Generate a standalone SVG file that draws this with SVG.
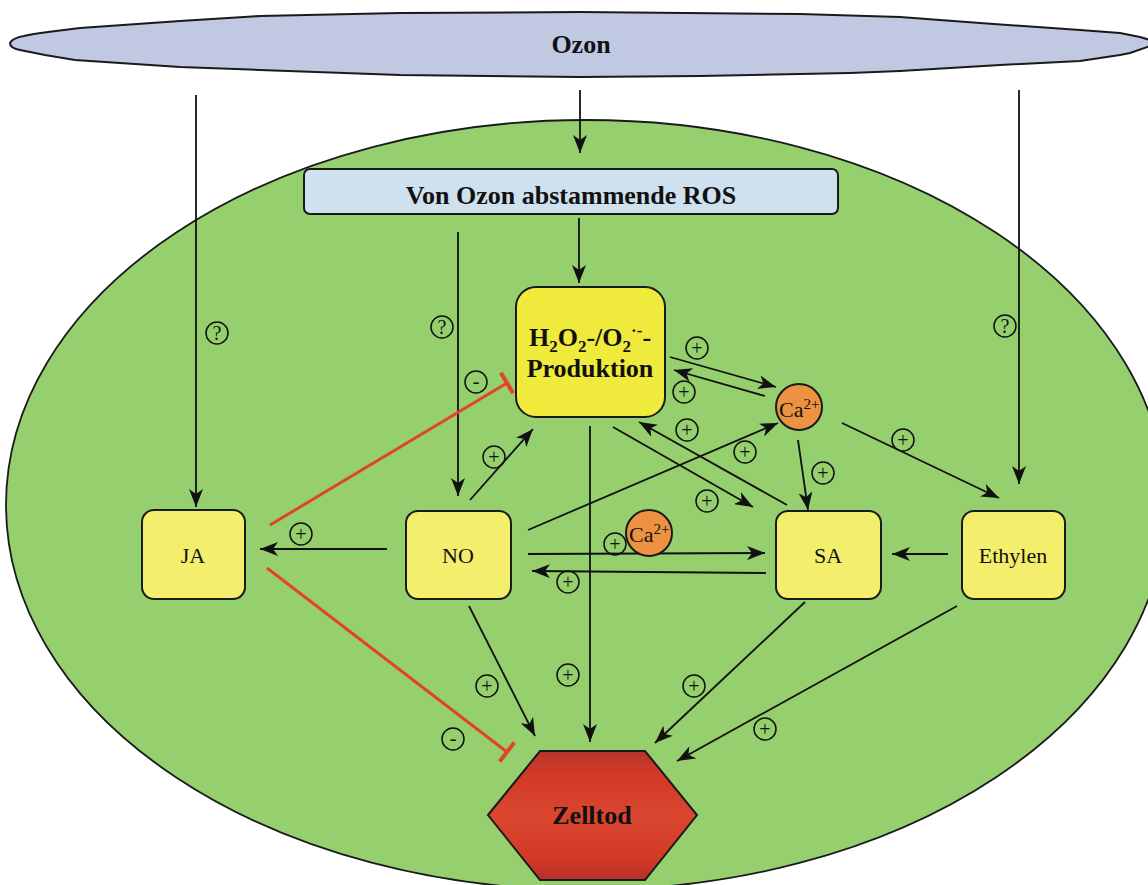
<svg xmlns="http://www.w3.org/2000/svg" width="1148" height="885" viewBox="0 0 1148 885">
  <style>
    .t { font-family: "Liberation Serif", "Times New Roman", serif; fill: #111; }
    .title { font-weight: bold; font-size: 26px; text-anchor: middle; }
    .lbl { font-size: 22px; text-anchor: middle; }
    .box { fill: #f3ee6c; stroke: #1a1a1a; stroke-width: 2; }
    .ca { fill: #ec9240; stroke: #1a1a1a; stroke-width: 2; }
    .con { fill: none; stroke: #111; stroke-width: 1.8; marker-end: url(#arr); }
    .inh { fill: none; stroke: #e0452c; stroke-width: 3; marker-end: url(#bar); }
    .sg circle { fill: none; stroke: #111; stroke-width: 1.5; }
    .sg text { font-family: "Liberation Serif", "Times New Roman", serif; font-size: 20px; text-anchor: middle; fill: #111; }
  </style>
  <defs>
    <marker id="arr" markerWidth="18" markerHeight="14" refX="18" refY="7" orient="auto" markerUnits="userSpaceOnUse">
      <path d="M0,0 L18,7 L0,14 L5,7 Z" fill="#111"/>
    </marker>
    <marker id="bar" markerWidth="8" markerHeight="26" refX="4" refY="13" orient="auto" markerUnits="userSpaceOnUse">
      <path d="M4,1 V25" stroke="#e0452c" stroke-width="4"/>
    </marker>
    <linearGradient id="deathFill" x1="0" y1="0" x2="0" y2="1">
      <stop offset="0" stop-color="#b9342a"/>
      <stop offset="0.18" stop-color="#d13a26"/>
      <stop offset="0.5" stop-color="#da462f"/>
      <stop offset="0.82" stop-color="#d23b27"/>
      <stop offset="1" stop-color="#b5302a"/>
    </linearGradient>
  </defs>

  <!-- ozone layer -->
  <g id="ozon">
    <path d="M10,43 C12,39 18,37 24,36 C32,34 40,33 48,32 L80,28 L180,21 L260,16 L400,13 L580,12 L800,14 L900,17 L980,23 L1080,30 L1120,33 L1140,37 L1150,40 L1150,46 L1130,53 L1120,55 L1080,61 L1000,65 L900,71 L850,73 L700,76 L580,77 L400,75 L260,70 L180,67 L75,60 L45,55 L35,53 L20,50 C14,49 10,47 10,43 Z" fill="#c0c8e2" stroke="#1a1a1a" stroke-width="2"/>
    <text class="t title" x="581" y="53">Ozon</text>
  </g>

  <!-- cell -->
  <g id="zelle">
    <ellipse cx="586" cy="505" rx="580" ry="385" fill="#96cf6e" stroke="#1a1a1a" stroke-width="1.8"/>
  </g>

  <!-- connectors -->
  <g id="connectors">
    <path class="con" d="M196,95 V507"/>
    <path class="con" d="M580,90 V153"/>
    <path class="con" d="M1019,90 V484"/>
    <path class="con" d="M579,218 V283"/>
    <path class="con" d="M458,232 V496"/>
    <path class="con" d="M470,500 L533,429"/>
    <path class="con" d="M387,549 L260,549"/>
    <path class="con" d="M528,530 L778,423"/>
    <path class="con" d="M528,554 L765,553"/>
    <path class="con" d="M766,573 L532,571"/>
    <path class="con" d="M469,606 L535,736"/>
    <path class="con" d="M590,426 V742"/>
    <path class="con" d="M670,357 L776,387"/>
    <path class="con" d="M765,396 L674,370"/>
    <path class="con" d="M613,427 L753,507"/>
    <path class="con" d="M787,505 L639,422"/>
    <path class="con" d="M798,440 L808,510"/>
    <path class="con" d="M842,423 L999,498"/>
    <path class="con" d="M948,554 L892,554"/>
    <path class="con" d="M805,602 L655,743"/>
    <path class="con" d="M957,606 L677,761"/>
    <path class="inh" d="M270,525 L507,383"/>
    <path class="inh" d="M267,568 L507,752"/>
  </g>

  <!-- signs on connectors -->
  <g id="signs" class="sg">
    <circle cx="217" cy="333" r="11"/><text x="217" y="340" font-size="17">?</text>
    <circle cx="442" cy="327" r="11"/><text x="442" y="334" font-size="17">?</text>
    <circle cx="1005" cy="326" r="11"/><text x="1005" y="333" font-size="17">?</text>
    <circle cx="476" cy="382" r="11"/><text x="476" y="388">-</text>
    <circle cx="453" cy="739" r="11"/><text x="453" y="745">-</text>
    <circle cx="494" cy="457" r="11"/><text x="494" y="464">+</text>
    <circle cx="301" cy="534" r="11"/><text x="301" y="541">+</text>
    <circle cx="697" cy="348" r="11"/><text x="697" y="355">+</text>
    <circle cx="684" cy="392" r="11"/><text x="684" y="399">+</text>
    <circle cx="687" cy="430" r="11"/><text x="687" y="437">+</text>
    <circle cx="745" cy="452" r="11"/><text x="745" y="459">+</text>
    <circle cx="707" cy="501" r="11"/><text x="707" y="508">+</text>
    <circle cx="823" cy="473" r="11"/><text x="823" y="480">+</text>
    <circle cx="903" cy="440" r="11"/><text x="903" y="447">+</text>
    <circle cx="615" cy="544" r="11"/><text x="615" y="551">+</text>
    <circle cx="568" cy="582" r="11"/><text x="568" y="589">+</text>
    <circle cx="487" cy="686" r="11"/><text x="487" y="693">+</text>
    <circle cx="568" cy="675" r="11"/><text x="568" y="682">+</text>
    <circle cx="694" cy="686" r="11"/><text x="694" y="693">+</text>
    <circle cx="765" cy="729" r="11"/><text x="765" y="736">+</text>
  </g>

  <!-- nodes -->
  <g id="ros">
    <rect x="304" y="169" width="534" height="45" rx="6" fill="#cfe0ee" stroke="#1a1a1a" stroke-width="2"/>
    <text class="t title" x="571" y="204">Von Ozon abstammende ROS</text>
  </g>

  <g id="h2o2">
    <rect x="516" y="287" width="149" height="130" rx="20" fill="#f0ea3c" stroke="#1a1a1a" stroke-width="2"/>
    <text class="t title" x="590" y="346">H<tspan dy="6" font-size="17">2</tspan><tspan dy="-6">O</tspan><tspan dy="6" font-size="17">2</tspan><tspan dy="-6">-/O</tspan><tspan dy="6" font-size="17">2</tspan><tspan dy="-16" font-size="17">·-</tspan><tspan dy="10">-</tspan></text>
    <text class="t title" x="590" y="377">Produktion</text>
  </g>

  <g id="ja">
    <rect class="box" x="142" y="510" width="103" height="89" rx="12"/>
    <text class="t lbl" x="193" y="563">JA</text>
  </g>

  <g id="no">
    <rect class="box" x="406" y="511" width="105" height="88" rx="12"/>
    <text class="t lbl" x="458" y="563">NO</text>
  </g>

  <g id="sa">
    <rect class="box" x="776" y="511" width="105" height="88" rx="12"/>
    <text class="t lbl" x="828" y="563">SA</text>
  </g>

  <g id="ethylen">
    <rect class="box" x="962" y="511" width="103" height="88" rx="12"/>
    <text class="t lbl" x="1013" y="563">Ethylen</text>
  </g>

  <g id="ca-oben">
    <circle class="ca" cx="799" cy="407" r="23"/>
    <text class="t" x="779" y="417" font-size="22">Ca<tspan dy="-8" font-size="15">2+</tspan></text>
  </g>

  <g id="ca-mitte">
    <circle class="ca" cx="649" cy="533" r="23"/>
    <text class="t" x="629" y="542" font-size="22">Ca<tspan dy="-8" font-size="15">2+</tspan></text>
  </g>

  <g id="zelltod">
    <path d="M488,815 L540,751 L645,751 L697,815 L645,880 L540,880 Z" fill="url(#deathFill)" stroke="#1a1a1a" stroke-width="2"/>
    <text class="t title" x="592" y="824" font-size="27">Zelltod</text>
  </g>
</svg>
